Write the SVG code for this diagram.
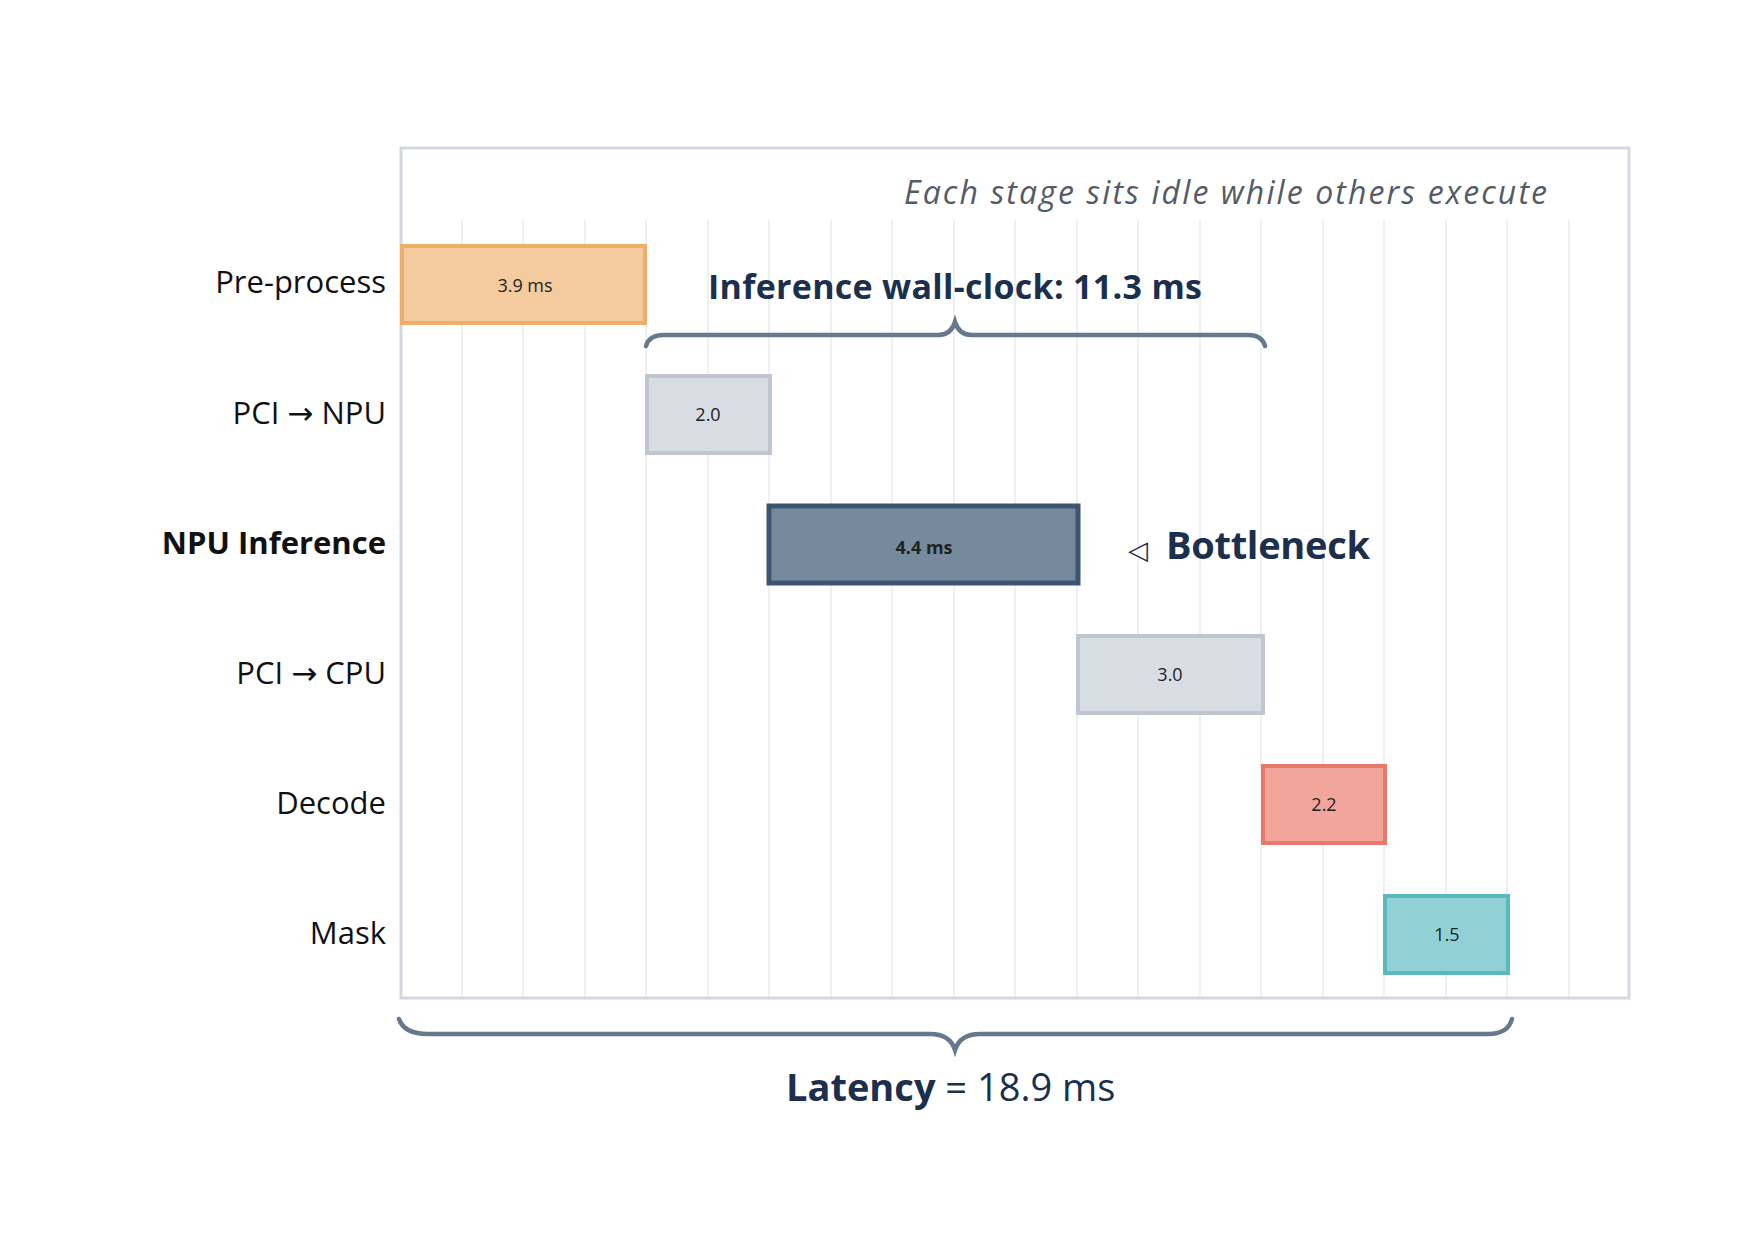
<svg xmlns="http://www.w3.org/2000/svg" width="1750" height="1244" viewBox="0 0 1750 1244">
<style>
.lbl{font-family:"Open Sans","DejaVu Sans",sans-serif;font-size:31px;fill:#111;text-anchor:end}
.val{font-family:"Open Sans","DejaVu Sans",sans-serif;font-size:18px;fill:#222;text-anchor:middle}
.grid{stroke:#eef0f3;stroke-width:2}
.brace{fill:none;stroke:#66788e;stroke-width:4.5;stroke-linecap:round}
.dark{fill:#1c2f4c;font-family:"Open Sans","DejaVu Sans",sans-serif}
</style>
<rect width="1750" height="1244" fill="#fff"/>
<g id="grid">
<path class="grid" d="M462,220V997M523,220V997M585,220V997M646,220V997M708,220V997M769,220V997M831,220V997M892,220V997M954,220V997M1015,220V997M1077,220V997M1138,220V997M1200,220V997M1261,220V997M1323,220V997M1384,220V997M1446,220V997M1507,220V997M1569,220V997"/>
</g>
<rect id="frame" x="401" y="148" width="1228" height="850" fill="none" stroke="#d3d8e0" stroke-width="3"/>
<text x="1547" y="204" font-family="Open Sans, DejaVu Sans, sans-serif" font-style="italic" font-size="32" fill="#555b66" text-anchor="end" textLength="643">Each stage sits idle while others execute</text>
<g id="preprocess">
<text class="lbl" x="386" y="293">Pre-process</text>
<rect x="402" y="246" width="243" height="77" fill="#f4cb9f" stroke="#eeae69" stroke-width="4"/>
<text class="val" x="525" y="292" font-size="23">3.9 ms</text>
</g>
<g id="pci_npu">
<text class="lbl" x="386" y="424">PCI → NPU</text>
<rect x="647" y="376" width="123" height="77" fill="#d8dce3" stroke="#c0c6d1" stroke-width="4"/>
<text class="val" x="708" y="421">2.0</text>
</g>
<g id="npu">
<text class="lbl" x="386" y="554" font-weight="bold">NPU Inference</text>
<rect x="769" y="506" width="309" height="77" fill="#768a9e" stroke="#3e5572" stroke-width="5"/>
<text class="val" x="924" y="554" font-size="24" font-weight="bold" fill="#fff">4.4 ms</text>
<text class="dark" x="1128" y="559" font-size="26">◁</text>
<text class="dark" x="1166" y="559" font-size="38" font-weight="bold" textLength="204">Bottleneck</text>
</g>
<g id="pci_cpu">
<text class="lbl" x="386" y="684">PCI → CPU</text>
<rect x="1078" y="636" width="185" height="77" fill="#d8dce3" stroke="#c0c6d1" stroke-width="4"/>
<text class="val" x="1170" y="681">3.0</text>
</g>
<g id="decode">
<text class="lbl" x="386" y="814">Decode</text>
<rect x="1263" y="766" width="122" height="77" fill="#f2a59b" stroke="#e9776a" stroke-width="4"/>
<text class="val" x="1324" y="811">2.2</text>
</g>
<g id="mask">
<text class="lbl" x="386" y="944">Mask</text>
<rect x="1385" y="896" width="123" height="77" fill="#91d1d6" stroke="#5bb8bd" stroke-width="4"/>
<text class="val" x="1447" y="941">1.5</text>
</g>
<g id="connectors">
<path class="brace" d="M646,346 Q649,335 664,335 L938,335 Q951,335 955,322 Q959,335 972,335 L1248,335 Q1262,335 1265,346"/>
<path class="brace" stroke="#7a8a9d" d="M399,1019 Q404,1034 428,1034 L930,1034 Q950,1034 955,1050 Q960,1034 980,1034 L1488,1034 Q1508,1034 1512,1019"/>
</g>
<text class="dark" x="708" y="299" font-size="34" font-weight="bold" textLength="494">Inference wall-clock:  11.3 ms</text>
<text class="dark" x="786" y="1101" font-size="38"><tspan font-weight="bold">Latency</tspan> = 18.9 ms</text>
</svg>
